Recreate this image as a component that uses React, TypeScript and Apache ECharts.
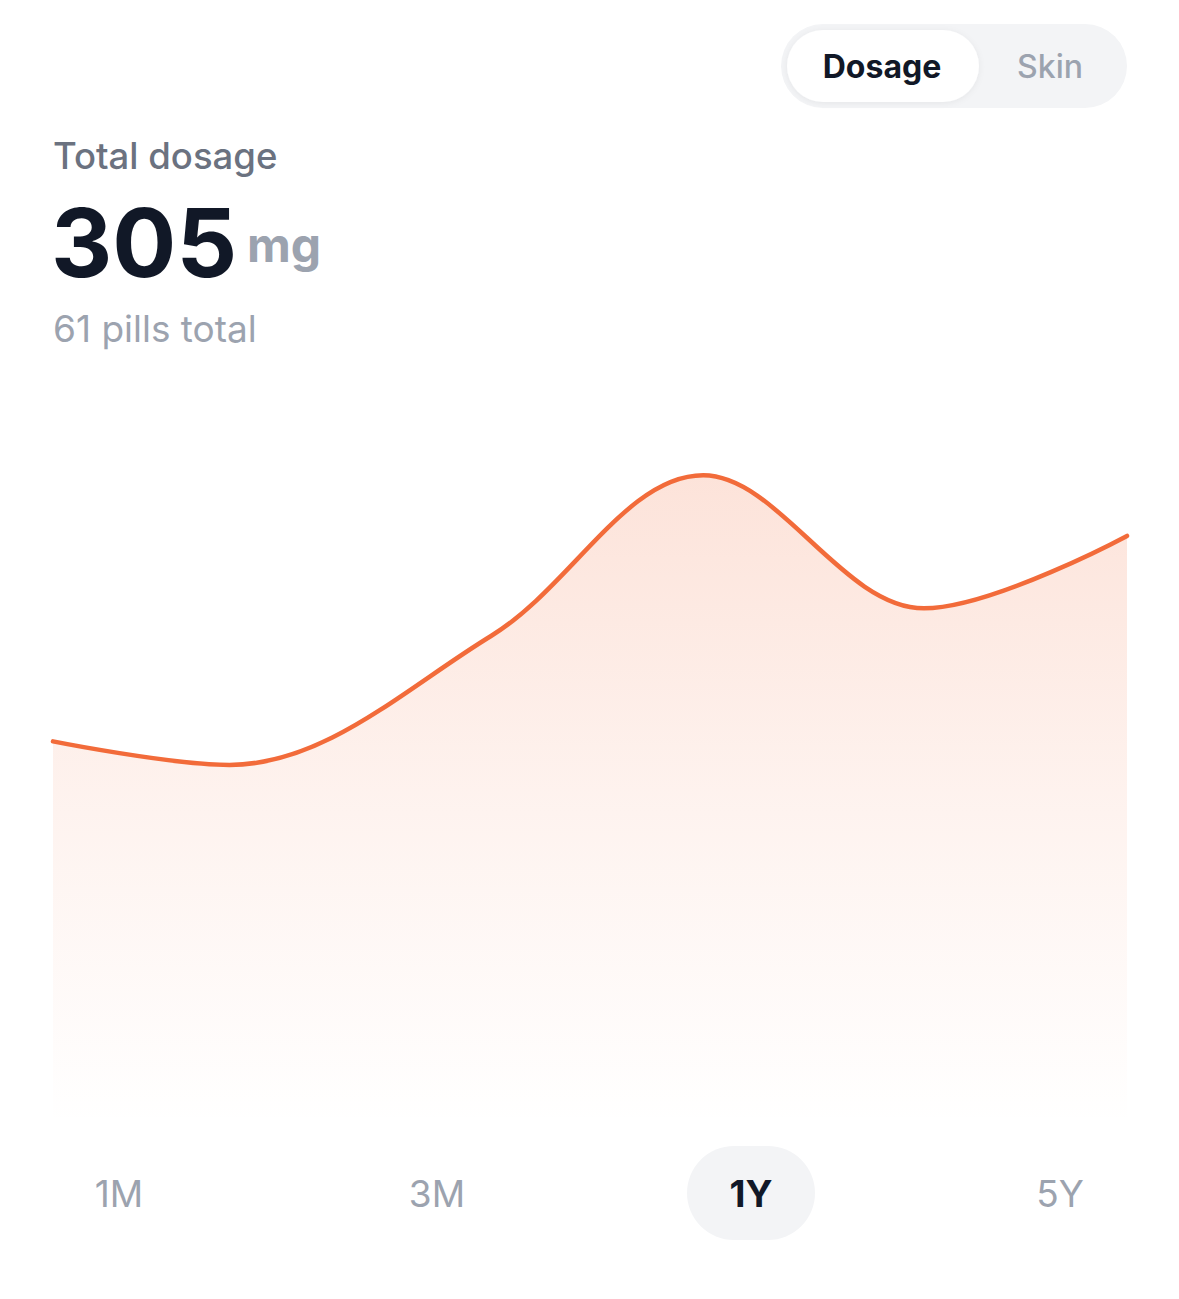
import React, { useEffect, useRef } from "react";
import * as echarts from "echarts";

// Dosage over the last year: day of year -> mg
const days = [0, 60, 149, 221, 296, 365];
const doses = [19.6, 18.4, 25.0, 33.2, 26.4, 30.1];

const totalLabel = "Total dosage";
const totalValue = "305";
const totalUnit = "mg";
const pillsLabel = "61 pills total";
const toggleTabs = ["Dosage", "Skin"];
const ranges = ["1M", "3M", "1Y", "5Y"];
const activeRange = "1Y";

const FONT = "Inter, 'Noto Sans', sans-serif";
const ORANGE = "#F26B3A";

export default function App() {
  const ref = useRef<HTMLDivElement>(null);

  useEffect(() => {
    if (!ref.current) return;
    const chart = echarts.init(ref.current, undefined, { renderer: "svg" });

    const rangeX = [119, 437, 751, 1060];

    const graphic: any[] = [
      {
        type: "rect",
        shape: { x: 781, y: 24, width: 346, height: 84, r: 42 },
        style: { fill: "#F3F4F6" },
        silent: true,
      },
      {
        type: "rect",
        shape: { x: 787, y: 30, width: 192, height: 72, r: 36 },
        style: { fill: "#FFFFFF", shadowBlur: 6, shadowColor: "rgba(0,0,0,0.06)", shadowOffsetY: 1 },
        silent: true,
      },
      {
        type: "text",
        style: {
          x: 882, y: 66, text: toggleTabs[0], fill: "#111827",
          font: `700 32px ${FONT}`, align: "center", verticalAlign: "middle",
        },
      },
      {
        type: "text",
        style: {
          x: 1050, y: 66, text: toggleTabs[1], fill: "#9CA3AF",
          font: `500 32px ${FONT}`, align: "center", verticalAlign: "middle",
        },
      },
      {
        type: "text",
        style: {
          x: 53, y: 156, text: totalLabel, fill: "#6B7280",
          font: `500 36.5px ${FONT}`, align: "left", verticalAlign: "middle",
        },
      },
      {
        type: "text",
        style: {
          x: 51, y: 242, text: totalValue, fill: "#111827",
          font: `700 95px ${FONT}`, align: "left", verticalAlign: "middle",
        },
      },
      {
        type: "text",
        style: {
          x: 247, y: 244, text: totalUnit, fill: "#9CA3AF",
          font: `700 48px ${FONT}`, align: "left", verticalAlign: "middle",
        },
      },
      {
        type: "text",
        style: {
          x: 53, y: 328, text: pillsLabel, fill: "#9CA3AF",
          font: `400 37px ${FONT}`, align: "left", verticalAlign: "middle",
        },
      },
    ];

    ranges.forEach((r, i) => {
      const active = r === activeRange;
      if (active) {
        graphic.push({
          type: "rect",
          shape: { x: rangeX[i] - 64, y: 1146, width: 128, height: 94, r: 47 },
          style: { fill: "#F3F4F6" },
          silent: true,
        });
      }
      graphic.push({
        type: "text",
        style: {
          x: rangeX[i], y: 1193, text: r, fill: active ? "#111827" : "#9CA3AF",
          font: `${active ? 700 : 400} 37px ${FONT}`, align: "center", verticalAlign: "middle",
        },
      });
    });

    chart.setOption({
      animation: false,
      backgroundColor: "#FFFFFF",
      grid: { left: 53, right: 52, top: 440, bottom: 174 },
      xAxis: {
        type: "value",
        min: 0,
        max: 365,
        show: false,
      },
      yAxis: {
        type: "value",
        min: 0,
        max: 35,
        show: false,
      },
      series: [
        {
          type: "line",
          data: days.map((d, i) => [d, doses[i]]),
          smooth: 0.35,
          symbol: "none",
          lineStyle: { color: ORANGE, width: 4.5, cap: "round" },
          areaStyle: {
            color: new echarts.graphic.LinearGradient(0, 0, 0, 1, [
              { offset: 0, color: "rgba(242,107,58,0.27)" },
              { offset: 0.5, color: "rgba(242,107,58,0.12)" },
              { offset: 1, color: "rgba(242,107,58,0.0)" },
            ]),
          },
        },
      ],
      graphic,
    });

    return () => chart.dispose();
  }, []);

  return (
    <div
      ref={ref}
      style={{ position: "fixed", left: 0, top: 0, width: 1179, height: 1299, background: "#fff" }}
    />
  );
}
